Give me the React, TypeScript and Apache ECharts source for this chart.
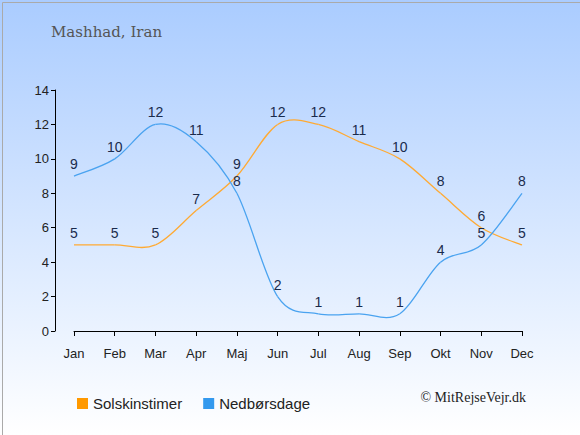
import React, { useEffect, useRef } from "react";
import * as echarts from "echarts";

const months = ["Jan", "Feb", "Mar", "Apr", "Maj", "Jun", "Jul", "Aug", "Sep", "Okt", "Nov", "Dec"];
const sunHours = [5, 5, 5, 7, 9, 12, 12, 11, 10, 8, 6, 5];
const rainDays = [9, 10, 12, 11, 8, 2, 1, 1, 1, 4, 5, 8];
const yTicks = { min: 0, max: 14, interval: 2 };

const SUN_COLOR = "#ff9900";
const SUN_LINE = "#ffaa33";
const RAIN_COLOR = "#3399ee";
const RAIN_LINE = "#4aa3f0";

function splineSeries(values: number[], color: string) {
  return {
    type: "custom",
    silent: true,
    z: 3,
    data: values.map((v, i) => [i, v]),
    renderItem: (params: any, api: any) => {
      const i = params.dataIndex;
      const n = values.length;
      if (i >= n - 1) return { type: "group", children: [] };
      const p = (k: number) => {
        const kk = Math.max(0, Math.min(n - 1, k));
        return api.coord([kk, values[kk]]);
      };
      const p0 = p(i - 1);
      const p1 = p(i);
      const p2 = p(i + 1);
      const p3 = p(i + 2);
      const cp1 = [p1[0] + (p2[0] - p0[0]) / 6, p1[1] + (p2[1] - p0[1]) / 6];
      const cp2 = [p2[0] - (p3[0] - p1[0]) / 6, p2[1] - (p3[1] - p1[1]) / 6];
      return {
        type: "bezierCurve",
        shape: {
          x1: p1[0],
          y1: p1[1],
          x2: p2[0],
          y2: p2[1],
          cpx1: cp1[0],
          cpy1: cp1[1],
          cpx2: cp2[0],
          cpy2: cp2[1],
        },
        style: { stroke: color, fill: "none", lineWidth: 1.3 },
      };
    },
  };
}

export default function App() {
  const ref = useRef<HTMLDivElement>(null);
  useEffect(() => {
    if (!ref.current) return;
    const chart = echarts.init(ref.current, null, { renderer: "svg" });
    const font = "Liberation Sans, Arial, sans-serif";
    const label = {
      show: true,
      position: "top" as const,
      distance: 4,
      color: "#1a2b4c",
      fontSize: 14,
      fontFamily: font,
    };
    chart.setOption({
      animation: false,
      backgroundColor: new echarts.graphic.LinearGradient(0, 0, 0, 1, [
        { offset: 0, color: "#aaccff" },
        { offset: 1, color: "#ffffff" },
      ]),
      title: {
        text: "Mashhad, Iran",
        left: 46,
        top: 19,
        textStyle: {
          fontFamily: "DejaVu Serif, Liberation Serif, serif",
          fontWeight: "normal",
          fontSize: 15,
          color: "#555555",
        },
      },
      grid: { left: 74, right: 58, top: 90, bottom: 104 },
      xAxis: {
        type: "category",
        data: months,
        boundaryGap: false,
        offset: 10,
        axisLine: { lineStyle: { color: "#000", width: 1 } },
        axisTick: { show: true, alignWithLabel: true, length: 5, inside: false },
        axisLabel: { color: "#222", fontSize: 13, fontFamily: font, margin: 6 },
        splitLine: { show: false },
      },
      yAxis: {
        type: "value",
        min: yTicks.min,
        max: yTicks.max,
        interval: yTicks.interval,
        offset: 19,
        axisLine: { show: true, lineStyle: { color: "#000", width: 1 } },
        axisTick: { show: true, length: 4 },
        axisLabel: { color: "#222", fontSize: 13, fontFamily: font, margin: 6 },
        splitLine: { show: false },
      },
      legend: {
        left: 72,
        top: 391,
        itemWidth: 11,
        itemHeight: 11,
        itemGap: 21,
        icon: "rect",
        textStyle: { color: "#222", fontSize: 15, fontFamily: font },
        data: [
          { name: "Solskinstimer", itemStyle: { color: SUN_COLOR } },
          { name: "Nedbørsdage", itemStyle: { color: RAIN_COLOR } },
        ],
      },
      graphic: [
        {
          type: "text",
          right: 54,
          top: 390,
          style: {
            text: "© MitRejseVejr.dk",
            font: "14px 'Liberation Serif', serif",
            fill: "#222",
          },
        },
        {
          type: "rect",
          left: 0,
          top: 0,
          shape: { x: 0.5, y: 0.5, width: 579, height: 434 },
          style: { fill: "none", stroke: "#aaaaaa", lineWidth: 1 },
          silent: true,
        },
      ],
      series: [
        {
          name: "Solskinstimer",
          type: "line",
          data: sunHours,
          showSymbol: true,
          symbol: "circle",
          symbolSize: 2,
          lineStyle: { opacity: 0, width: 0 },
          itemStyle: { color: "rgba(0,0,0,0)" },
          label,
          z: 4,
        },
        {
          name: "Nedbørsdage",
          type: "line",
          data: rainDays,
          showSymbol: true,
          symbol: "circle",
          symbolSize: 2,
          lineStyle: { opacity: 0, width: 0 },
          itemStyle: { color: "rgba(0,0,0,0)" },
          label,
          z: 4,
        },
        splineSeries(sunHours, SUN_LINE),
        splineSeries(rainDays, RAIN_LINE),
      ],
    });
    return () => chart.dispose();
  }, []);
  return <div ref={ref} style={{ width: 580, height: 435, position: "absolute", left: 0, top: 0 }} />;
}
